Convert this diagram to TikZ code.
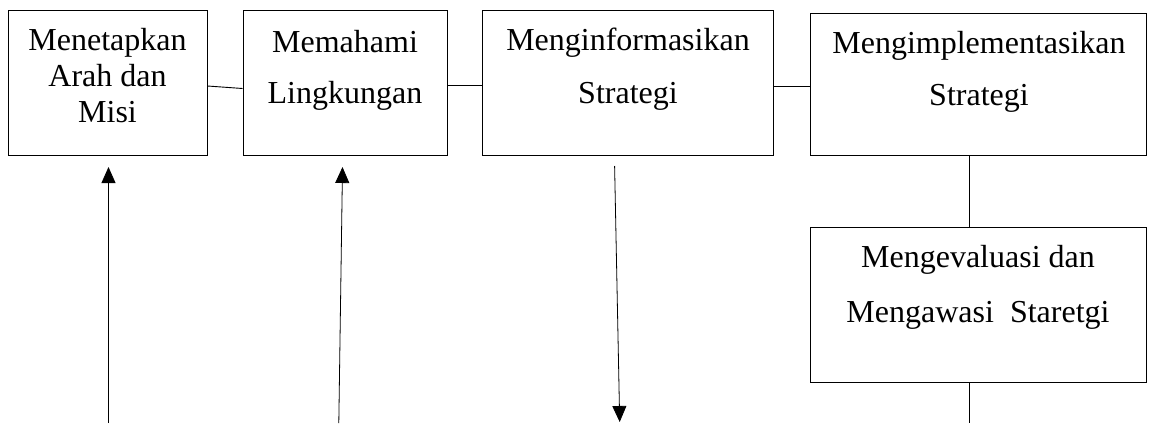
\documentclass[tikz,border=0pt]{standalone}
\usepackage{fontspec}
\setmainfont{Liberation Serif}
\usetikzlibrary{arrows.meta, positioning}

\begin{document}
\begin{tikzpicture}[
    x=1pt, y=1pt,
    box/.style={draw, line width=1pt, inner sep=0pt},
    txt/.style={inner sep=0pt, anchor=north, align=center, font=\fontsize{32}{36}\selectfont},
    conn/.style={line width=0.9pt},
    arr/.style={-{Triangle[length=16pt, width=14pt]}, line width=0.8pt},
]
    \useasboundingbox (0,0) rectangle (1150,-423);

    \node[box, minimum width=199pt, minimum height=145pt] (b1) at (107.5,-82.5) {};
    \node[box, minimum width=204pt, minimum height=145pt] (b2) at (345,-82.5) {};
    \node[box, minimum width=291pt, minimum height=145pt] (b3) at (627.5,-82.5) {};
    \node[box, minimum width=336pt, minimum height=142pt] (b4) at (978,-84) {};
    \node[box, minimum width=336pt, minimum height=155pt] (b5) at (978,-304.5) {};

    % Texts
    \node[txt] (t1) at (107.5,-28) {Menetapkan\\Arah dan\\Misi};
    \node[txt] (t2) at (345,-30) {Memahami\\[15pt]Lingkungan};
    \node[txt] (t3) at (628,-28) {Menginformasikan\\[17pt]Strategi};
    \node[txt] (t4) at (979,-31) {Mengimplementasikan\\[16pt]Strategi};
    \node[txt] (t5) at (978,-245) {Mengevaluasi dan\\[19pt]Mengawasi~~Staretgi};

    % Links between the boxes
    \draw[conn] ([yshift=-3.5pt]b1.east) -- ([yshift=-6pt]b2.west);
    \draw[conn] ([yshift=-3pt]b2.east) -- ([yshift=-3pt]b3.west);
    \draw[conn] ([yshift=-3.5pt]b3.east) -- ([yshift=-2pt]b4.west);
    \draw[conn] ([xshift=-8.5pt]b4.south) -- ([xshift=-8.5pt]b5.north);
    \coordinate (e5) at (969.5,-423);
    \draw[conn] ([xshift=-8.5pt]b5.south) -- (e5);

    % Arrows
    \coordinate (a1s) at (108.5,-423);
    \coordinate (a1e) at (108.5,-167);
    \coordinate (a2s) at (338.8,-423);
    \coordinate (a2e) at (342.5,-167);
    \coordinate (a3s) at (614.6,-166);
    \coordinate (a3e) at (619.7,-422);
    \draw[arr] (a1s) -- (a1e);
    \draw[arr] (a2s) -- (a2e);
    \draw[arr] (a3s) -- (a3e);
\end{tikzpicture}
\end{document}
